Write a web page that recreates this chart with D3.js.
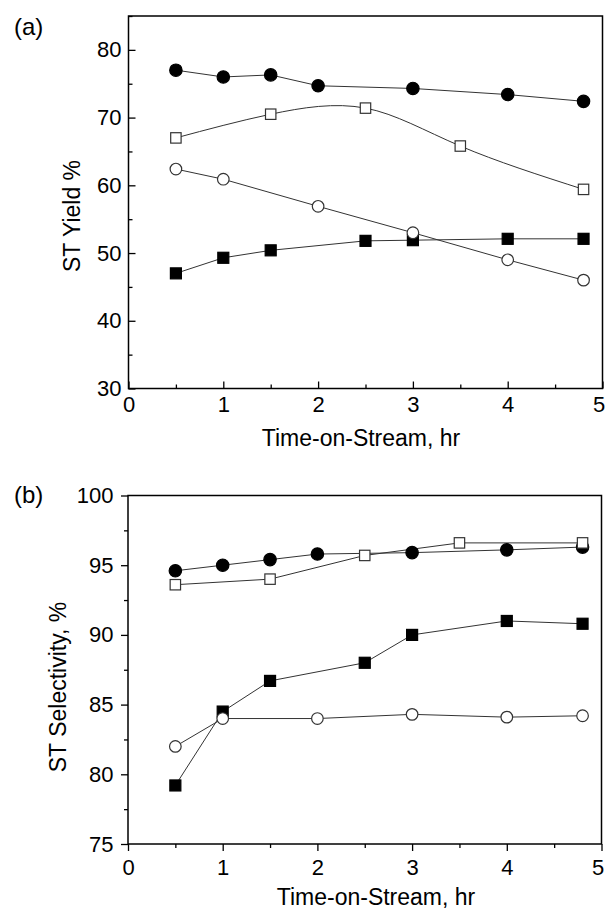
<!DOCTYPE html>
<html>
<head>
<meta charset="utf-8">
<script src="https://cdn.jsdelivr.net/npm/d3@7"></script>
<style>
  body { margin: 0; background: #fff; }
  svg text { font-family: "Liberation Sans", Arial, sans-serif; fill: #000; }
</style>
</head>
<body>
<svg id="chart" width="606" height="911"></svg>
<script>
/* Panel (a): ST yield vs time-on-stream. */
const hoursDotA = [0.5, 1, 1.5, 2, 3, 4, 4.8]
const yieldDotA = [77, 76, 76.3, 74.7, 74.3, 73.4, 72.4]
const hoursOpenSqA = [0.5, 1.5, 2.5, 3.5, 4.8]
const yieldOpenSqA = [67, 70.5, 71.4, 65.8, 59.4]
const hoursOpenCircA = [0.5, 1, 2, 3, 4, 4.8]
const yieldOpenCircA = [62.4, 60.9, 56.9, 53.0, 49.0, 46.0]
const hoursFillSqA = [0.5, 1, 1.5, 2.5, 3, 4, 4.8]
const yieldFillSqA = [47.0, 49.3, 50.4, 51.8, 51.9, 52.1, 52.1]

/* Panel (b): ST selectivity vs time-on-stream. */
const hoursDotB = [0.5, 1, 1.5, 2, 3, 4, 4.8]
const selDotB = [94.6, 95.0, 95.4, 95.8, 95.9, 96.1, 96.3]
const hoursOpenSqB = [0.5, 1.5, 2.5, 3.5, 4.8]
const selOpenSqB = [93.6, 94.0, 95.7, 96.6, 96.6]
const hoursFillSqB = [0.5, 1, 1.5, 2.5, 3, 4, 4.8]
const selFillSqB = [79.2, 84.5, 86.7, 88.0, 90.0, 91.0, 90.8]
const hoursOpenCircB = [0.5, 1, 2, 3, 4, 4.8]
const selOpenCircB = [82.0, 84.0, 84.0, 84.3, 84.1, 84.2]

/* Tick values. */
const xTicks = [0, 1, 2, 3, 4, 5]
const xMinor = [0.5, 1.5, 2.5, 3.5, 4.5]
const yTicksA = [30, 40, 50, 60, 70, 80]
const yMinorA = [35, 45, 55, 65, 75, 85]
const yTicksB = [75, 80, 85, 90, 95, 100]
const yMinorB = [77.5, 82.5, 87.5, 92.5, 97.5]

const zip = (xs, ys) => xs.map((x, i) => [x, ys[i]])

const svg = d3.select("#chart")

/* Draw one panel. */
const drawPanel = (cfg) => {
  const x = d3.scaleLinear().domain([0, 5]).range([cfg.left, cfg.right])
  const y = d3.scaleLinear().domain(cfg.yDomain).range([cfg.bottom, cfg.top])
  const g = svg.append("g")
  const dir = cfg.inward ? -1 : 1

  /* Minor ticks. */
  g.append("g")
    .attr("transform", `translate(0,${cfg.bottom})`)
    .call(d3.axisBottom(x).tickValues(xMinor).tickSize(4 * dir).tickFormat(""))
  g.append("g")
    .attr("transform", `translate(${cfg.left},0)`)
    .call(d3.axisLeft(y).tickValues(cfg.yMinor).tickSize(4 * dir).tickFormat(""))

  /* Major ticks with labels. */
  const xAxis = g.append("g")
    .attr("transform", `translate(0,${cfg.bottom})`)
    .call(d3.axisBottom(x).tickValues(xTicks).tickSize(7 * dir)
      .tickPadding(cfg.xPad).tickFormat(d3.format("d")))
  const yAxis = g.append("g")
    .attr("transform", `translate(${cfg.left},0)`)
    .call(d3.axisLeft(y).tickValues(cfg.yTicks).tickSize(7 * dir)
      .tickPadding(cfg.yPad).tickFormat(d3.format("d")))

  g.selectAll(".domain").remove()
  g.selectAll(".tick line").attr("stroke", "#000").attr("stroke-width", 1.3)
  xAxis.selectAll("text").style("font-size", "22px")
  yAxis.selectAll("text").style("font-size", "22px")

  /* Keep the last x label inside the picture, as in the original. */
  xAxis.selectAll(".tick text").filter(d => d === 5).attr("dx", "-4")

  /* Frame. */
  g.append("rect")
    .attr("x", cfg.left).attr("y", cfg.top)
    .attr("width", cfg.right - cfg.left).attr("height", cfg.bottom - cfg.top)
    .attr("fill", "none").attr("stroke", "#000").attr("stroke-width", 1.5)

  /* Series lines, then markers on top. */
  cfg.series.forEach(s => {
    g.append("path")
      .datum(s.data)
      .attr("fill", "none")
      .attr("stroke", "#333")
      .attr("stroke-width", 1)
      .attr("d", d3.line().x(d => x(d[0])).y(d => y(d[1])).curve(s.curve || d3.curveLinear))
  })
  cfg.series.forEach(s => {
    const fill = s.filled ? "#000" : "#fff"
    if (s.shape === "circle") {
      g.selectAll(null).data(s.data).join("circle")
        .attr("cx", d => x(d[0])).attr("cy", d => y(d[1])).attr("r", s.filled ? 6.2 : 5.8)
        .attr("fill", fill).attr("stroke", s.filled ? "#000" : "#333").attr("stroke-width", 1.2)
    } else {
      const half = s.filled ? 5.5 : 5.2
      g.selectAll(null).data(s.data).join("rect")
        .attr("x", d => x(d[0]) - half).attr("y", d => y(d[1]) - half)
        .attr("width", half * 2).attr("height", half * 2)
        .attr("fill", fill).attr("stroke", s.filled ? "#000" : "#333").attr("stroke-width", 1.2)
    }
  })

  /* Titles. */
  svg.append("text")
    .attr("x", cfg.xTitleX).attr("y", cfg.xTitleY)
    .attr("text-anchor", "middle").attr("dy", "0.35em")
    .style("font-size", "23px")
    .text("Time-on-Stream, hr")
  svg.append("text")
    .attr("transform", `translate(${cfg.yTitleX},${cfg.yTitleY}) rotate(-90)`)
    .attr("text-anchor", "middle").attr("dy", "0.35em")
    .style("font-size", "23px")
    .text(cfg.yTitle)
  svg.append("text")
    .attr("x", 14).attr("y", cfg.tagY)
    .style("font-size", "24px")
    .text(cfg.tag)
}

drawPanel({
  left: 128.5, right: 602.5, top: 16, bottom: 388.5,
  yDomain: [30, 85], yTicks: yTicksA, yMinor: yMinorA,
  inward: true, xPad: 8, yPad: 7,
  xTitleX: 361, xTitleY: 438, yTitleX: 72, yTitleY: 216,
  yTitle: "ST Yield %", tag: "(a)", tagY: 35,
  series: [
    { data: zip(hoursDotA, yieldDotA), shape: "circle", filled: true },
    { data: zip(hoursFillSqA, yieldFillSqA), shape: "square", filled: true },
    { data: zip(hoursOpenCircA, yieldOpenCircA), shape: "circle", filled: false },
    { data: zip(hoursOpenSqA, yieldOpenSqA), shape: "square", filled: false, curve: d3.curveNatural }
  ]
})

drawPanel({
  left: 128, right: 601.5, top: 495.5, bottom: 844,
  yDomain: [75, 100], yTicks: yTicksB, yMinor: yMinorB,
  inward: false, xPad: 8, yPad: 7.5,
  xTitleX: 376, xTitleY: 897, yTitleX: 58, yTitleY: 687,
  yTitle: "ST Selectivity, %", tag: "(b)", tagY: 503,
  series: [
    { data: zip(hoursDotB, selDotB), shape: "circle", filled: true },
    { data: zip(hoursFillSqB, selFillSqB), shape: "square", filled: true },
    { data: zip(hoursOpenCircB, selOpenCircB), shape: "circle", filled: false },
    { data: zip(hoursOpenSqB, selOpenSqB), shape: "square", filled: false }
  ]
})
</script>
</body>
</html>
